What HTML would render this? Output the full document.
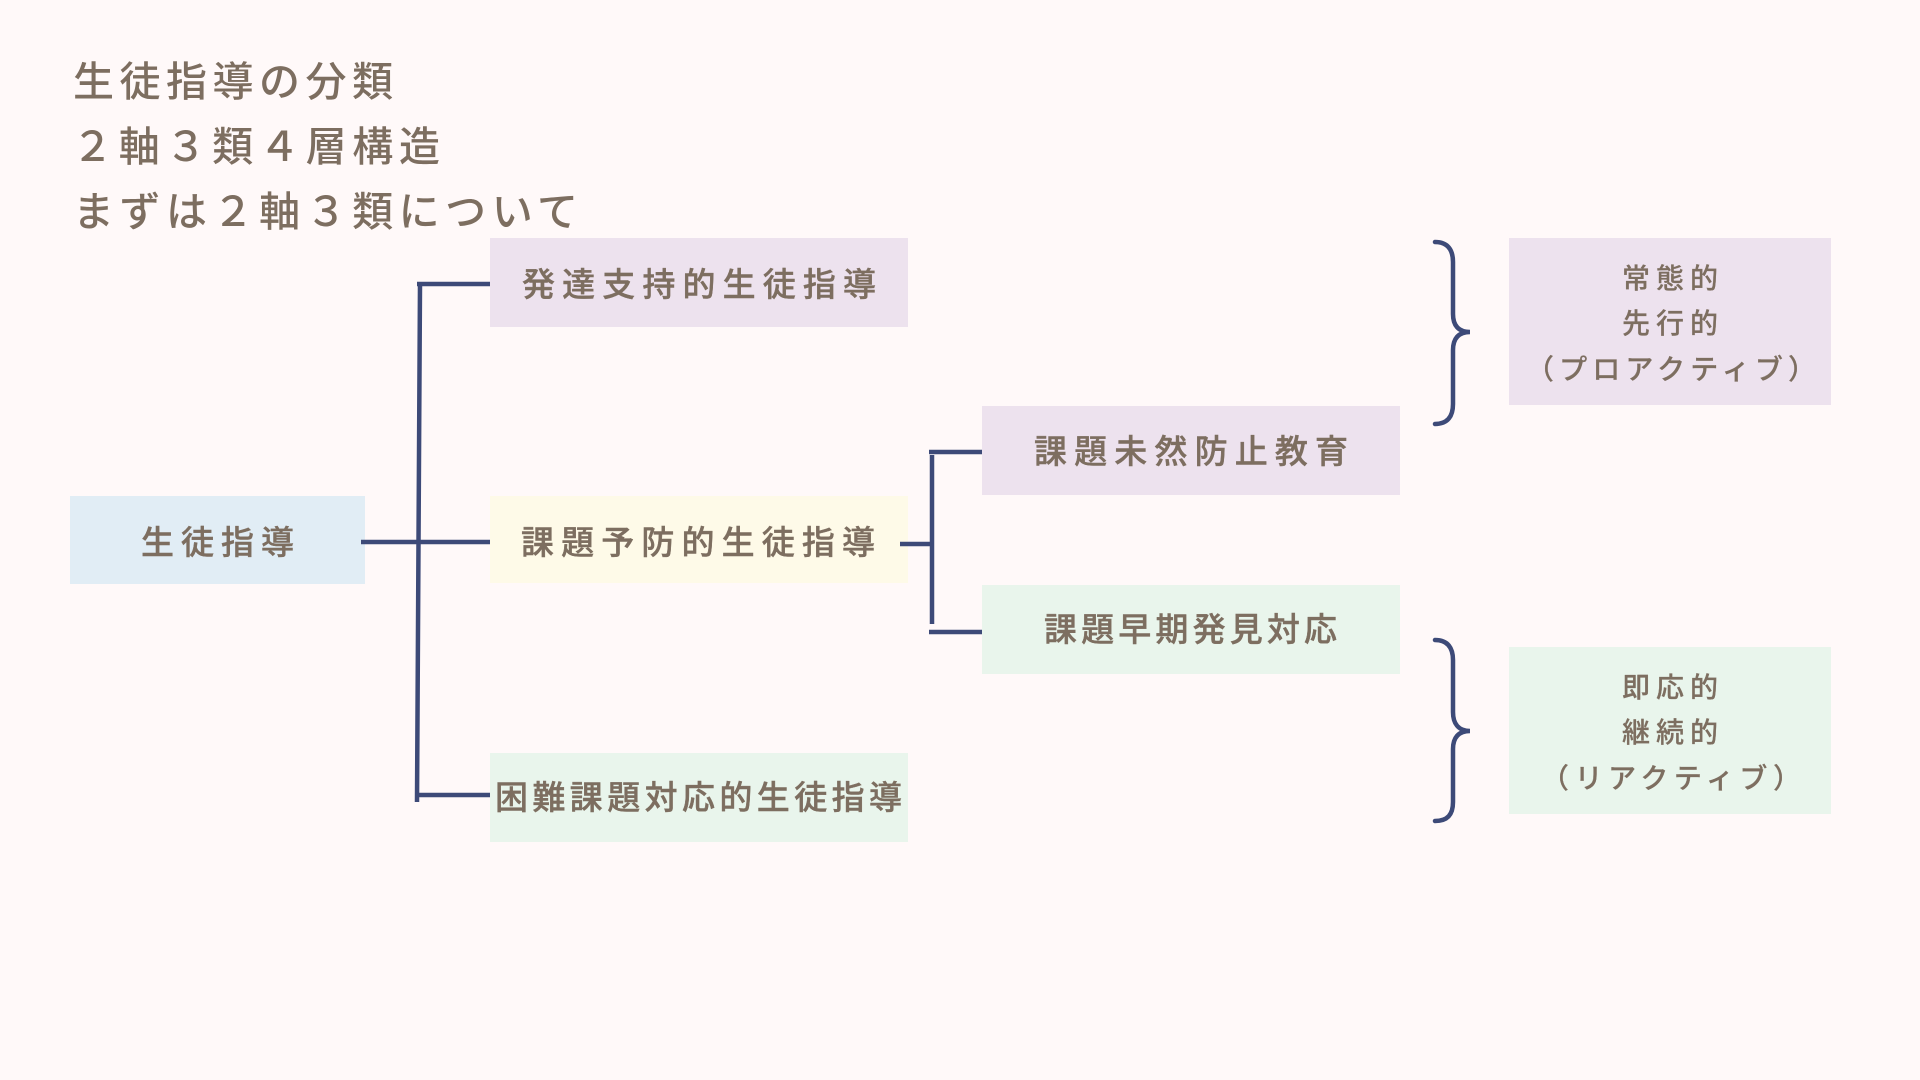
<!DOCTYPE html>
<html lang="ja"><head><meta charset="utf-8"><style>
html,body{margin:0;padding:0;background:#fff9f9;width:1920px;height:1080px;overflow:hidden}
svg{display:block}
text{font-family:"Liberation Sans","Noto Sans CJK JP",sans-serif;fill:#7d6e60;font-weight:500}
.t{font-size:41px;font-weight:500}.b{font-size:33px;stroke:#7d6e60;stroke-width:.4}.s{font-size:28px;stroke:#7d6e60;stroke-width:.2}
.l{stroke:#3d4a78;stroke-width:4.5;fill:none}
</style></head><body>
<svg width="1920" height="1080" viewBox="0 0 1920 1080" xmlns="http://www.w3.org/2000/svg">
<rect width="1920" height="1080" fill="#fff9f9"/>
<rect x="490" y="238" width="418" height="89" fill="#ede2ee"/>
<rect x="70" y="496" width="295" height="88" fill="#e1edf5"/>
<rect x="490" y="496" width="418" height="87" fill="#fefae8"/>
<rect x="490" y="753" width="418" height="89" fill="#e9f5ec"/>
<rect x="982" y="406" width="418" height="89" fill="#ede2ee"/>
<rect x="982" y="585" width="418" height="89" fill="#e9f5ec"/>
<rect x="1509" y="238" width="322" height="167" fill="#ede2ee"/>
<rect x="1509" y="647" width="322" height="167" fill="#e9f5ec"/>
<path class="l" d="M420 284L417 802M417 284H490M361 542H490M417 795H490M900 544H932M932 455V624M929 452H982M929 632H982"/>
<path class="l" stroke-linecap="round" d="M1435 242C1448 242 1453 250 1453 262V314C1453 325 1458 332 1470 332C1458 332 1453 339 1453 350V404C1453 416 1448 424 1435 424"/>
<path class="l" stroke-linecap="round" d="M1435 640C1448 640 1453 648 1453 660V712C1453 723 1458 731 1470 731C1458 731 1453 738 1453 749V802C1453 814 1448 821 1435 821"/>
<text class="t" x="73" y="96" textLength="320" lengthAdjust="spacing">生徒指導の分類</text>
<text class="t" x="72" y="161" textLength="368" lengthAdjust="spacing">２軸３類４層構造</text>
<text class="t" x="73" y="226" textLength="505" lengthAdjust="spacing">まずは２軸３類について</text>
<text class="b" x="141" y="554" textLength="153" lengthAdjust="spacing">生徒指導</text>
<text class="b" x="522" y="296" textLength="354" lengthAdjust="spacing">発達支持的生徒指導</text>
<text class="b" x="521" y="554" textLength="354" lengthAdjust="spacing">課題予防的生徒指導</text>
<text class="b" x="495" y="809" textLength="407" lengthAdjust="spacing">困難課題対応的生徒指導</text>
<text class="b" x="1034" y="463" textLength="314" lengthAdjust="spacing">課題未然防止教育</text>
<text class="b" x="1044" y="641" textLength="293" lengthAdjust="spacing">課題早期発見対応</text>
<text class="s" x="1622" y="288" textLength="96" lengthAdjust="spacing">常態的</text>
<text class="s" x="1622" y="333" textLength="96" lengthAdjust="spacing">先行的</text>
<text class="s" x="1526" y="379" textLength="290" lengthAdjust="spacing">（プロアクティブ）</text>
<text class="s" x="1622" y="697" textLength="96" lengthAdjust="spacing">即応的</text>
<text class="s" x="1622" y="742" textLength="96" lengthAdjust="spacing">継続的</text>
<text class="s" x="1541" y="788" textLength="260" lengthAdjust="spacing">（リアクティブ）</text>
</svg>
</body></html>
